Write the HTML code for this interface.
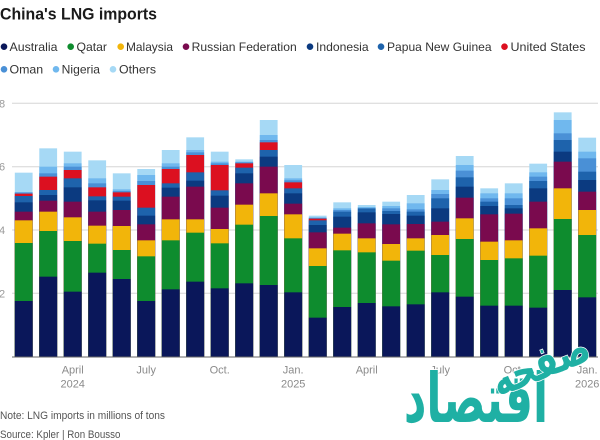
<!DOCTYPE html>
<html><head><meta charset="utf-8">
<style>
html,body{margin:0;padding:0;background:#fff;}
svg{display:block;}
text{font-family:"Liberation Sans",sans-serif;}
.a{fill:#0a175a}.q{fill:#0e8c2e}.m{fill:#f2b50a}.r{fill:#7a0a4e}.i{fill:#0b3a80}
.p{fill:#1e63ac}.u{fill:#dc1020}.o{fill:#4a90d6}.n{fill:#70b8ee}.t{fill:#a6d9f5}
</style></head>
<body>
<svg width="600" height="440" viewBox="0 0 600 440" xmlns="http://www.w3.org/2000/svg">
<rect width="600" height="440" fill="#fff"/>
<text x="0" y="19.3" font-size="16.5" font-weight="bold" fill="#1a1a1a" textLength="157" lengthAdjust="spacingAndGlyphs">China's LNG imports</text>

<g font-size="12" fill="#333">
<circle cx="4" cy="46.7" r="3.3" fill="#0a175a"/><text x="9.5" y="51" textLength="48" lengthAdjust="spacingAndGlyphs">Australia</text>
<circle cx="70.7" cy="46.7" r="3.3" fill="#0e8c2e"/><text x="76.5" y="51" textLength="30.5" lengthAdjust="spacingAndGlyphs">Qatar</text>
<circle cx="120.7" cy="46.7" r="3.3" fill="#f2b50a"/><text x="126" y="51" textLength="47" lengthAdjust="spacingAndGlyphs">Malaysia</text>
<circle cx="186" cy="46.7" r="3.3" fill="#7a0a4e"/><text x="191.7" y="51" textLength="105" lengthAdjust="spacingAndGlyphs">Russian Federation</text>
<circle cx="310" cy="46.7" r="3.3" fill="#0b3a80"/><text x="316" y="51" textLength="52.6" lengthAdjust="spacingAndGlyphs">Indonesia</text>
<circle cx="381" cy="46.7" r="3.3" fill="#1e63ac"/><text x="387" y="51" textLength="104.6" lengthAdjust="spacingAndGlyphs">Papua New Guinea</text>
<circle cx="504.5" cy="46.7" r="3.3" fill="#dc1020"/><text x="510.5" y="51" textLength="75" lengthAdjust="spacingAndGlyphs">United States</text>
<circle cx="4" cy="69.3" r="3.3" fill="#4a90d6"/><text x="9.5" y="73.6" textLength="33.7" lengthAdjust="spacingAndGlyphs">Oman</text>
<circle cx="56" cy="69.3" r="3.3" fill="#70b8ee"/><text x="61.7" y="73.6" textLength="38.3" lengthAdjust="spacingAndGlyphs">Nigeria</text>
<circle cx="113" cy="69.3" r="3.3" fill="#a6d9f5"/><text x="119" y="73.6" textLength="37" lengthAdjust="spacingAndGlyphs">Others</text>
</g>

<g stroke="#d6d6d6" stroke-width="1">
<line x1="12" y1="103.3" x2="598" y2="103.3"/>
<line x1="12" y1="166.7" x2="598" y2="166.7"/>
<line x1="12" y1="230" x2="598" y2="230"/>
<line x1="12" y1="293.3" x2="598" y2="293.3"/>
</g>
<g font-size="11" fill="#9a9a9a">
<text x="-1" y="107.3">8</text>
<text x="-1" y="170.7">6</text>
<text x="-1" y="234">4</text>
<text x="-1" y="297.3">2</text>
</g>

<g transform="translate(0,95) scale(1,0.333333)">
<rect class="t" x="14.8" y="233" width="17.8" height="552"/><rect class="n" x="14.8" y="291" width="17.8" height="494"/><rect class="o" x="14.8" y="293" width="17.8" height="492"/><rect class="u" x="14.8" y="296" width="17.8" height="489"/><rect class="p" x="14.8" y="303" width="17.8" height="482"/><rect class="i" x="14.8" y="322" width="17.8" height="463"/><rect class="r" x="14.8" y="350" width="17.8" height="435"/><rect class="m" x="14.8" y="376" width="17.8" height="409"/><rect class="q" x="14.8" y="444" width="17.8" height="341"/><rect class="a" x="14.8" y="618" width="17.8" height="167"/>
<rect class="t" x="39.3" y="160" width="17.8" height="625"/><rect class="n" x="39.3" y="215" width="17.8" height="570"/><rect class="o" x="39.3" y="235" width="17.8" height="550"/><rect class="u" x="39.3" y="245" width="17.8" height="540"/><rect class="p" x="39.3" y="285" width="17.8" height="500"/><rect class="i" x="39.3" y="300" width="17.8" height="485"/><rect class="r" x="39.3" y="317" width="17.8" height="468"/><rect class="m" x="39.3" y="350" width="17.8" height="435"/><rect class="q" x="39.3" y="408" width="17.8" height="377"/><rect class="a" x="39.3" y="545" width="17.8" height="240"/>
<rect class="t" x="63.8" y="170" width="17.8" height="615"/><rect class="n" x="63.8" y="205" width="17.8" height="580"/><rect class="o" x="63.8" y="215" width="17.8" height="570"/><rect class="u" x="63.8" y="225" width="17.8" height="560"/><rect class="p" x="63.8" y="250" width="17.8" height="535"/><rect class="i" x="63.8" y="277" width="17.8" height="508"/><rect class="r" x="63.8" y="320" width="17.8" height="465"/><rect class="m" x="63.8" y="367" width="17.8" height="418"/><rect class="q" x="63.8" y="438" width="17.8" height="347"/><rect class="a" x="63.8" y="590" width="17.8" height="195"/>
<rect class="t" x="88.3" y="196" width="17.8" height="589"/><rect class="n" x="88.3" y="250" width="17.8" height="535"/><rect class="o" x="88.3" y="265" width="17.8" height="520"/><rect class="u" x="88.3" y="277" width="17.8" height="508"/><rect class="p" x="88.3" y="304" width="17.8" height="481"/><rect class="i" x="88.3" y="316" width="17.8" height="469"/><rect class="r" x="88.3" y="350" width="17.8" height="435"/><rect class="m" x="88.3" y="392" width="17.8" height="393"/><rect class="q" x="88.3" y="446" width="17.8" height="339"/><rect class="a" x="88.3" y="533" width="17.8" height="252"/>
<rect class="t" x="112.8" y="235" width="17.8" height="550"/><rect class="n" x="112.8" y="283" width="17.8" height="502"/><rect class="o" x="112.8" y="288" width="17.8" height="497"/><rect class="u" x="112.8" y="292" width="17.8" height="493"/><rect class="p" x="112.8" y="305" width="17.8" height="480"/><rect class="i" x="112.8" y="317" width="17.8" height="468"/><rect class="r" x="112.8" y="345" width="17.8" height="440"/><rect class="m" x="112.8" y="393" width="17.8" height="392"/><rect class="q" x="112.8" y="465" width="17.8" height="320"/><rect class="a" x="112.8" y="552" width="17.8" height="233"/>
<rect class="t" x="137.3" y="222" width="17.8" height="563"/><rect class="n" x="137.3" y="240" width="17.8" height="545"/><rect class="o" x="137.3" y="258" width="17.8" height="527"/><rect class="u" x="137.3" y="270" width="17.8" height="515"/><rect class="p" x="137.3" y="338" width="17.8" height="447"/><rect class="i" x="137.3" y="362" width="17.8" height="423"/><rect class="r" x="137.3" y="388" width="17.8" height="397"/><rect class="m" x="137.3" y="436" width="17.8" height="349"/><rect class="q" x="137.3" y="484" width="17.8" height="301"/><rect class="a" x="137.3" y="618" width="17.8" height="167"/>
<rect class="t" x="161.8" y="165" width="17.8" height="620"/><rect class="n" x="161.8" y="205" width="17.8" height="580"/><rect class="o" x="161.8" y="215" width="17.8" height="570"/><rect class="u" x="161.8" y="222" width="17.8" height="563"/><rect class="p" x="161.8" y="265" width="17.8" height="520"/><rect class="i" x="161.8" y="278" width="17.8" height="507"/><rect class="r" x="161.8" y="305" width="17.8" height="480"/><rect class="m" x="161.8" y="373" width="17.8" height="412"/><rect class="q" x="161.8" y="436" width="17.8" height="349"/><rect class="a" x="161.8" y="583" width="17.8" height="202"/>
<rect class="t" x="186.3" y="127" width="17.8" height="658"/><rect class="n" x="186.3" y="165" width="17.8" height="620"/><rect class="o" x="186.3" y="172" width="17.8" height="613"/><rect class="u" x="186.3" y="180" width="17.8" height="605"/><rect class="p" x="186.3" y="232" width="17.8" height="553"/><rect class="i" x="186.3" y="257" width="17.8" height="528"/><rect class="r" x="186.3" y="275" width="17.8" height="510"/><rect class="m" x="186.3" y="373" width="17.8" height="412"/><rect class="q" x="186.3" y="413" width="17.8" height="372"/><rect class="a" x="186.3" y="560" width="17.8" height="225"/>
<rect class="t" x="210.8" y="170" width="17.8" height="615"/><rect class="n" x="210.8" y="200" width="17.8" height="585"/><rect class="o" x="210.8" y="205" width="17.8" height="580"/><rect class="u" x="210.8" y="210" width="17.8" height="575"/><rect class="p" x="210.8" y="286" width="17.8" height="499"/><rect class="i" x="210.8" y="302" width="17.8" height="483"/><rect class="r" x="210.8" y="338" width="17.8" height="447"/><rect class="m" x="210.8" y="402" width="17.8" height="383"/><rect class="q" x="210.8" y="445" width="17.8" height="340"/><rect class="a" x="210.8" y="580" width="17.8" height="205"/>
<rect class="t" x="235.3" y="193" width="17.8" height="592"/><rect class="n" x="235.3" y="200" width="17.8" height="585"/><rect class="o" x="235.3" y="202" width="17.8" height="583"/><rect class="u" x="235.3" y="205" width="17.8" height="580"/><rect class="p" x="235.3" y="218" width="17.8" height="567"/><rect class="i" x="235.3" y="235" width="17.8" height="550"/><rect class="r" x="235.3" y="265" width="17.8" height="520"/><rect class="m" x="235.3" y="329" width="17.8" height="456"/><rect class="q" x="235.3" y="389" width="17.8" height="396"/><rect class="a" x="235.3" y="565" width="17.8" height="220"/>
<rect class="t" x="259.8" y="75" width="17.8" height="710"/><rect class="n" x="259.8" y="120" width="17.8" height="665"/><rect class="o" x="259.8" y="135" width="17.8" height="650"/><rect class="u" x="259.8" y="142" width="17.8" height="643"/><rect class="p" x="259.8" y="165" width="17.8" height="620"/><rect class="i" x="259.8" y="185" width="17.8" height="600"/><rect class="r" x="259.8" y="215" width="17.8" height="570"/><rect class="m" x="259.8" y="295" width="17.8" height="490"/><rect class="q" x="259.8" y="363" width="17.8" height="422"/><rect class="a" x="259.8" y="570" width="17.8" height="215"/>
<rect class="t" x="284.3" y="210" width="17.8" height="575"/><rect class="n" x="284.3" y="250" width="17.8" height="535"/><rect class="o" x="284.3" y="256" width="17.8" height="529"/><rect class="u" x="284.3" y="262" width="17.8" height="523"/><rect class="p" x="284.3" y="280" width="17.8" height="505"/><rect class="i" x="284.3" y="295" width="17.8" height="490"/><rect class="r" x="284.3" y="326" width="17.8" height="459"/><rect class="m" x="284.3" y="358" width="17.8" height="427"/><rect class="q" x="284.3" y="430" width="17.8" height="355"/><rect class="a" x="284.3" y="592" width="17.8" height="193"/>
<rect class="t" x="308.8" y="362" width="17.8" height="423"/><rect class="n" x="308.8" y="367" width="17.8" height="418"/><rect class="o" x="308.8" y="369" width="17.8" height="416"/><rect class="u" x="308.8" y="371" width="17.8" height="414"/><rect class="p" x="308.8" y="376" width="17.8" height="409"/><rect class="i" x="308.8" y="390" width="17.8" height="395"/><rect class="r" x="308.8" y="412" width="17.8" height="373"/><rect class="m" x="308.8" y="460" width="17.8" height="325"/><rect class="q" x="308.8" y="513" width="17.8" height="272"/><rect class="a" x="308.8" y="668" width="17.8" height="117"/>
<rect class="t" x="333.3" y="322" width="17.8" height="463"/><rect class="n" x="333.3" y="340" width="17.8" height="445"/><rect class="o" x="333.3" y="345" width="17.8" height="440"/><rect class="p" x="333.3" y="350" width="17.8" height="435"/><rect class="i" x="333.3" y="365" width="17.8" height="420"/><rect class="r" x="333.3" y="398" width="17.8" height="387"/><rect class="m" x="333.3" y="416" width="17.8" height="369"/><rect class="q" x="333.3" y="466" width="17.8" height="319"/><rect class="a" x="333.3" y="636" width="17.8" height="149"/>
<rect class="t" x="357.8" y="330" width="17.8" height="455"/><rect class="n" x="357.8" y="336" width="17.8" height="449"/><rect class="p" x="357.8" y="340" width="17.8" height="445"/><rect class="i" x="357.8" y="352" width="17.8" height="433"/><rect class="r" x="357.8" y="385" width="17.8" height="400"/><rect class="m" x="357.8" y="430" width="17.8" height="355"/><rect class="q" x="357.8" y="472" width="17.8" height="313"/><rect class="a" x="357.8" y="624" width="17.8" height="161"/>
<rect class="t" x="382.3" y="320" width="17.8" height="465"/><rect class="n" x="382.3" y="333" width="17.8" height="452"/><rect class="o" x="382.3" y="340" width="17.8" height="445"/><rect class="p" x="382.3" y="348" width="17.8" height="437"/><rect class="i" x="382.3" y="357" width="17.8" height="428"/><rect class="r" x="382.3" y="388" width="17.8" height="397"/><rect class="m" x="382.3" y="447" width="17.8" height="338"/><rect class="q" x="382.3" y="497" width="17.8" height="288"/><rect class="a" x="382.3" y="634" width="17.8" height="151"/>
<rect class="t" x="406.8" y="300" width="17.8" height="485"/><rect class="n" x="406.8" y="325" width="17.8" height="460"/><rect class="o" x="406.8" y="343" width="17.8" height="442"/><rect class="p" x="406.8" y="350" width="17.8" height="435"/><rect class="i" x="406.8" y="362" width="17.8" height="423"/><rect class="r" x="406.8" y="387" width="17.8" height="398"/><rect class="m" x="406.8" y="430" width="17.8" height="355"/><rect class="q" x="406.8" y="467" width="17.8" height="318"/><rect class="a" x="406.8" y="628" width="17.8" height="157"/>
<rect class="t" x="431.3" y="253" width="17.8" height="532"/><rect class="n" x="431.3" y="285" width="17.8" height="500"/><rect class="o" x="431.3" y="297" width="17.8" height="488"/><rect class="p" x="431.3" y="310" width="17.8" height="475"/><rect class="i" x="431.3" y="340" width="17.8" height="445"/><rect class="r" x="431.3" y="380" width="17.8" height="405"/><rect class="m" x="431.3" y="420" width="17.8" height="365"/><rect class="q" x="431.3" y="480" width="17.8" height="305"/><rect class="a" x="431.3" y="592" width="17.8" height="193"/>
<rect class="t" x="455.8" y="183" width="17.8" height="602"/><rect class="n" x="455.8" y="210" width="17.8" height="575"/><rect class="o" x="455.8" y="227" width="17.8" height="558"/><rect class="p" x="455.8" y="247" width="17.8" height="538"/><rect class="i" x="455.8" y="275" width="17.8" height="510"/><rect class="r" x="455.8" y="308" width="17.8" height="477"/><rect class="m" x="455.8" y="370" width="17.8" height="415"/><rect class="q" x="455.8" y="432" width="17.8" height="353"/><rect class="a" x="455.8" y="605" width="17.8" height="180"/>
<rect class="t" x="480.3" y="280" width="17.8" height="505"/><rect class="n" x="480.3" y="295" width="17.8" height="490"/><rect class="o" x="480.3" y="310" width="17.8" height="475"/><rect class="p" x="480.3" y="320" width="17.8" height="465"/><rect class="i" x="480.3" y="333" width="17.8" height="452"/><rect class="r" x="480.3" y="358" width="17.8" height="427"/><rect class="m" x="480.3" y="440" width="17.8" height="345"/><rect class="q" x="480.3" y="495" width="17.8" height="290"/><rect class="a" x="480.3" y="632" width="17.8" height="153"/>
<rect class="t" x="504.8" y="265" width="17.8" height="520"/><rect class="n" x="504.8" y="295" width="17.8" height="490"/><rect class="o" x="504.8" y="310" width="17.8" height="475"/><rect class="p" x="504.8" y="330" width="17.8" height="455"/><rect class="i" x="504.8" y="340" width="17.8" height="445"/><rect class="r" x="504.8" y="356" width="17.8" height="429"/><rect class="m" x="504.8" y="436" width="17.8" height="349"/><rect class="q" x="504.8" y="490" width="17.8" height="295"/><rect class="a" x="504.8" y="632" width="17.8" height="153"/>
<rect class="t" x="529.3" y="206" width="17.8" height="579"/><rect class="n" x="529.3" y="232" width="17.8" height="553"/><rect class="o" x="529.3" y="245" width="17.8" height="540"/><rect class="p" x="529.3" y="258" width="17.8" height="527"/><rect class="i" x="529.3" y="280" width="17.8" height="505"/><rect class="r" x="529.3" y="320" width="17.8" height="465"/><rect class="m" x="529.3" y="400" width="17.8" height="385"/><rect class="q" x="529.3" y="482" width="17.8" height="303"/><rect class="a" x="529.3" y="638" width="17.8" height="147"/>
<rect class="t" x="553.8" y="52" width="17.8" height="733"/><rect class="n" x="553.8" y="75" width="17.8" height="710"/><rect class="o" x="553.8" y="115" width="17.8" height="670"/><rect class="p" x="553.8" y="135" width="17.8" height="650"/><rect class="i" x="553.8" y="170" width="17.8" height="615"/><rect class="r" x="553.8" y="200" width="17.8" height="585"/><rect class="m" x="553.8" y="280" width="17.8" height="505"/><rect class="q" x="553.8" y="372" width="17.8" height="413"/><rect class="a" x="553.8" y="585" width="17.8" height="200"/>
<rect class="t" x="578.3" y="128" width="17.8" height="657"/><rect class="n" x="578.3" y="170" width="17.8" height="615"/><rect class="o" x="578.3" y="190" width="17.8" height="595"/><rect class="p" x="578.3" y="230" width="17.8" height="555"/><rect class="i" x="578.3" y="255" width="17.8" height="530"/><rect class="r" x="578.3" y="290" width="17.8" height="495"/><rect class="m" x="578.3" y="345" width="17.8" height="440"/><rect class="q" x="578.3" y="420" width="17.8" height="365"/><rect class="a" x="578.3" y="607" width="17.8" height="178"/>
</g>

<line x1="12" y1="357" x2="598" y2="357" stroke="#666" stroke-width="1"/>

<g font-size="11" fill="#8a8a8a" text-anchor="middle">
<text x="72.7" y="373.3">April</text><text x="72.7" y="387.5">2024</text>
<text x="146.2" y="373.3">July</text>
<text x="219.7" y="373.3">Oct.</text>
<text x="293.2" y="373.3">Jan.</text><text x="293.2" y="387.5">2025</text>
<text x="366.7" y="373.3">April</text>
<text x="440.2" y="373.3">July</text>
<text x="513.7" y="373.3">Oct.</text>
<text x="587.2" y="373.3">Jan.</text><text x="587.2" y="387.5">2026</text>
</g>

<g font-size="11" fill="#555">
<text x="0" y="419" textLength="165" lengthAdjust="spacingAndGlyphs">Note: LNG imports in millions of tons</text>
<text x="0" y="438" textLength="120.5" lengthAdjust="spacingAndGlyphs">Source: Kpler | Ron Bousso</text>
</g>

<g font-weight="bold" fill="#1fb0a4" stroke="#ffffff" stroke-width="1.2" paint-order="stroke">
<text x="0" y="0" font-size="44" text-anchor="middle" transform="translate(476,422) scale(1,1.55)" style="font-family:'DejaVu Sans',sans-serif">اقتصاد</text>
<text x="0" y="0" font-size="34" text-anchor="middle" transform="translate(546,378) rotate(-22) scale(1,1.3)" style="font-family:'DejaVu Sans',sans-serif">صفحه</text>
</g>
</svg>
</body></html>
